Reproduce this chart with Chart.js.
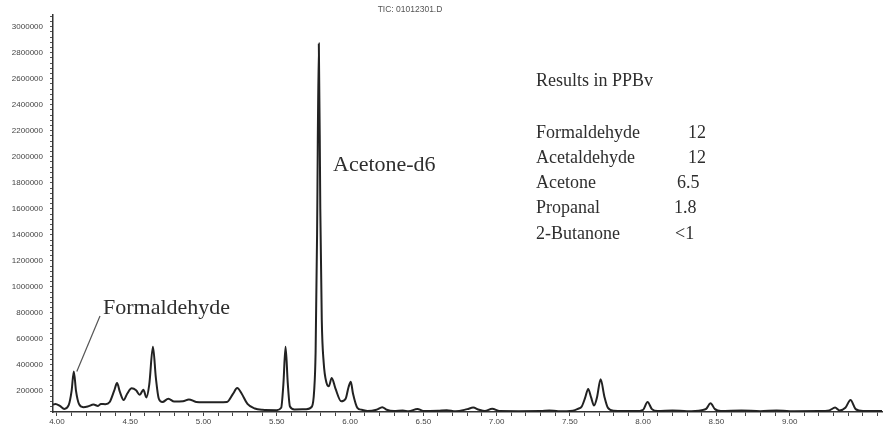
<!DOCTYPE html>
<html>
<head>
<meta charset="utf-8">
<script src="https://cdn.jsdelivr.net/npm/chart.js@4/dist/chart.umd.min.js"></script>
<style>
  html, body { margin: 0; padding: 0; background: #fff; }
  #wrap { width: 887px; height: 429px; position: relative; }
</style>
</head>
<body>
<div id="wrap"><canvas id="ticChart"></canvas></div>
<script>
// TIC trace, retention time (min) vs abundance
const retentionTimes = [
  3.973, 3.99, 4.02, 4.05, 4.08, 4.10, 4.115, 4.13, 4.15, 4.18, 4.21, 4.25, 4.28, 4.30, 4.33, 4.36,
  4.39, 4.41, 4.43, 4.455, 4.48, 4.51, 4.54, 4.565, 4.59, 4.61, 4.63, 4.655, 4.675, 4.695, 4.72,
  4.76, 4.80, 4.86, 4.90, 4.95, 5.00, 5.10, 5.16, 5.20, 5.23, 5.26, 5.30, 5.35, 5.40, 5.50, 5.53,
  5.545, 5.56, 5.575, 5.59, 5.62, 5.70, 5.74, 5.755, 5.765, 5.775, 5.787, 5.797, 5.807, 5.82, 5.84,
  5.855, 5.875, 5.90, 5.94, 5.97, 5.99, 6.005, 6.02, 6.05, 6.08, 6.12, 6.18, 6.22, 6.25, 6.30, 6.36,
  6.40, 6.46, 6.50, 6.60, 6.66, 6.72, 6.80, 6.84, 6.88, 6.92, 6.97, 7.02, 7.15, 7.30, 7.36, 7.42,
  7.52, 7.56, 7.58, 7.605, 7.625, 7.645, 7.665, 7.685, 7.71, 7.735, 7.76, 7.80, 7.95, 8.00, 8.03,
  8.06, 8.10, 8.20, 8.30, 8.40, 8.43, 8.46, 8.49, 8.53, 8.67, 8.80, 8.91, 9.00, 9.20, 9.27, 9.31,
  9.34, 9.38, 9.415, 9.45, 9.50, 9.63
];
const abundance = [
  95000, 100000, 85000, 62000, 90000, 200000, 350000, 200000, 100000, 75000, 80000, 95000, 85000, 100000, 98000, 115000,
  200000, 260000, 190000, 130000, 180000, 220000, 205000, 170000, 210000, 150000, 250000, 540000, 300000, 140000, 115000,
  140000, 118000, 120000, 135000, 115000, 112000, 112000, 115000, 175000, 222000, 180000, 100000, 65000, 55000, 52000, 70000,
  250000, 540000, 260000, 80000, 58000, 60000, 80000, 200000, 500000, 1400000, 2870000, 1600000, 750000, 420000, 260000,
  235000, 300000, 220000, 120000, 140000, 230000, 270000, 180000, 70000, 55000, 45000, 55000, 75000, 55000, 45000, 50000,
  43000, 62000, 45000, 48000, 52000, 43000, 60000, 72000, 55000, 45000, 63000, 45000, 44000, 45000, 50000, 44000,
  48000, 65000, 78000, 150000, 215000, 150000, 88000, 150000, 290000, 160000, 70000, 48000, 45000, 55000, 115000,
  60000, 45000, 50000, 44000, 52000, 62000, 105000, 60000, 45000, 50000, 44000, 50000, 44000, 45000, 50000, 72000,
  50000, 70000, 130000, 60000, 45000, 45000
];

// axis labels
const xTickLabels = ['4.00', '4.50', '5.00', '5.50', '6.00', '6.50', '7.00', '7.50', '8.00', '8.50', '9.00'];
const yTickLabels = ['200000', '400000', '600000', '800000', '1000000', '1200000', '1400000', '1600000',
  '1800000', '2000000', '2200000', '2400000', '2600000', '2800000', '3000000'];

// text on the plot
const fileTitle = 'TIC: 01012301.D';
const peakNames = ['Formaldehyde', 'Acetone-d6'];
const resultsHeader = 'Results in PPBv';
const resultCompounds = ['Formaldehyde', 'Acetaldehyde', 'Acetone', 'Propanal', '2-Butanone'];
const resultValues = ['12', '12', '6.5', '1.8', '<1'];

const X_MIN = 3.973, X_MAX = 9.63;
const Y_MIN = 38000, Y_MAX = 3090000;

const SERIF = "'Liberation Serif', 'DejaVu Serif', serif";
const SANS = "'Liberation Sans', Arial, sans-serif";

const textOverlay = {
  id: 'textOverlay',
  afterDraw(chart) {
    const ctx = chart.ctx;
    const xs = chart.scales.x, ys = chart.scales.y;
    ctx.save();

    ctx.fillStyle = '#555';
    ctx.font = '8.5px ' + SANS;
    ctx.textAlign = 'center';
    ctx.textBaseline = 'middle';
    ctx.fillText(fileTitle, 410, 10);

    // peak annotations
    ctx.fillStyle = '#2e2e2e';
    ctx.textAlign = 'left';
    ctx.textBaseline = 'alphabetic';
    ctx.font = '22px ' + SERIF;
    ctx.fillText(peakNames[0], 103, 314);
    ctx.fillText(peakNames[1], 333, 171);

    // leader line to the formaldehyde peak
    const px = xs.getPixelForValue(4.115) + 3;
    const py = ys.getPixelForValue(350000);
    ctx.strokeStyle = '#555';
    ctx.lineWidth = 1.2;
    ctx.beginPath();
    ctx.moveTo(100, 316);
    ctx.lineTo(px, py);
    ctx.stroke();

    // results box
    ctx.font = '18px ' + SERIF;
    ctx.textBaseline = 'middle';
    ctx.fillText(resultsHeader, 536, 81);
    const rowY = [133, 158, 183, 208, 234];
    const valX = [688, 688, 677, 674, 675];
    resultCompounds.forEach((name, i) => {
      ctx.fillText(name, 536, rowY[i]);
      ctx.fillText(resultValues[i], valX[i], rowY[i]);
    });
    ctx.restore();
  }
};

const canvas = document.getElementById('ticChart');
new Chart(canvas.getContext('2d'), {
  type: 'line',
  data: {
    datasets: [{
      data: retentionTimes.map((t, i) => ({ x: t, y: abundance[i] })),
      borderColor: '#222',
      borderWidth: 2,
      pointRadius: 0,
      fill: false,
      cubicInterpolationMode: 'monotone'
    }]
  },
  options: {
    responsive: true,
    maintainAspectRatio: false,
    animation: false,
    layout: { padding: { top: 15, right: 5, left: 0, bottom: 0 } },
    plugins: {
      legend: { display: false },
      tooltip: { enabled: false }
    },
    scales: {
      x: {
        type: 'linear',
        min: X_MIN,
        max: X_MAX,
        afterBuildTicks: (scale) => {
          const ticks = [];
          for (let k = 40; k <= 96; k++) ticks.push({ value: k / 10 });
          scale.ticks = ticks;
        },
        afterFit: (scale) => { scale.height = 17; },
        border: { display: true, color: '#333', width: 1.5 },
        grid: { drawOnChartArea: false, drawTicks: true, tickLength: 4, color: '#444', tickWidth: 1 },
        ticks: {
          autoSkip: false,
          maxRotation: 0,
          padding: 1,
          color: '#444',
          font: { family: SANS, size: 8 },
          callback: (v) => {
            const s = Number(v).toFixed(2);
            return xTickLabels.includes(s) ? s : '';
          }
        }
      },
      y: {
        min: Y_MIN,
        max: Y_MAX,
        afterBuildTicks: (scale) => {
          const ticks = [];
          for (let k = 1; k <= 77; k++) ticks.push({ value: k * 40000 });
          scale.ticks = ticks;
        },
        afterFit: (scale) => { scale.width = 53; },
        border: { display: true, color: '#333', width: 1.5 },
        grid: { drawOnChartArea: false, drawTicks: true, tickLength: 3, color: '#555', tickWidth: 1 },
        ticks: {
          autoSkip: false,
          padding: 7,
          color: '#444',
          font: { family: SANS, size: 8 },
          callback: (v) => {
            const s = String(Math.round(v));
            return yTickLabels.includes(s) ? s : '';
          }
        }
      }
    }
  },
  plugins: [textOverlay]
});
</script>
</body>
</html>
